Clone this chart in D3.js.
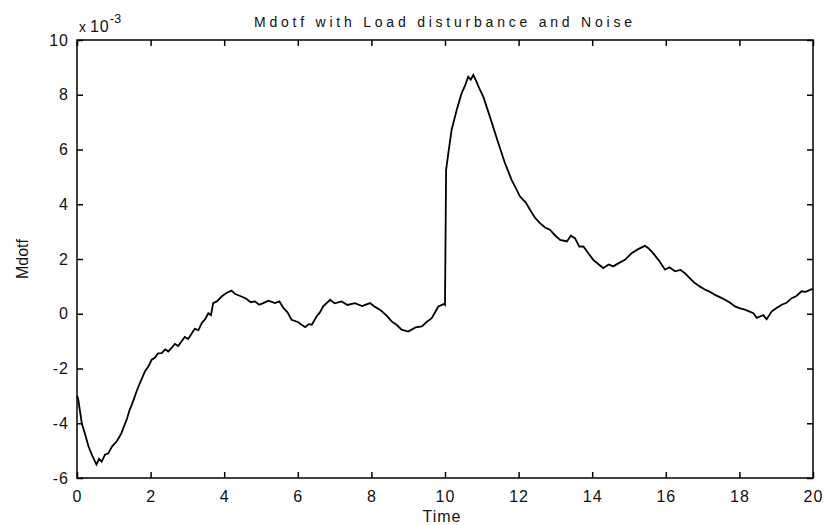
<!DOCTYPE html>
<html>
<head>
<meta charset="utf-8">
<script src="https://cdn.jsdelivr.net/npm/d3@7"></script>
<style>
  body { margin: 0; background: #fff; }
  text { font-family: "Liberation Sans", Arial, sans-serif; fill: #111; }
</style>
</head>
<body>
<div id="chart"></div>
<script>
// values (Mdotf in units of 1e-3)
var timeVals = [0, 0.03, 0.13, 0.22, 0.31, 0.42, 0.53, 0.6, 0.67, 0.76, 0.85, 0.95, 1.08, 1.15, 1.21, 1.28, 1.35, 1.42, 1.49, 1.55, 1.62, 1.72, 1.85, 1.95, 2.03, 2.12, 2.2, 2.3, 2.4, 2.48, 2.57, 2.66, 2.75, 2.84, 2.93, 3.02, 3.12, 3.2, 3.3, 3.39, 3.48, 3.57, 3.64, 3.7, 3.8, 3.93, 4.05, 4.2, 4.3, 4.47, 4.6, 4.72, 4.84, 4.95, 5.06, 5.2, 5.38, 5.5, 5.61, 5.72, 5.83, 6.0, 6.2, 6.3, 6.38, 6.51, 6.6, 6.69, 6.88, 7.0, 7.19, 7.35, 7.55, 7.75, 7.96, 8.1, 8.23, 8.4, 8.55, 8.7, 8.82, 9.0, 9.2, 9.37, 9.5, 9.64, 9.75, 9.82, 9.98, 10.0, 10.03, 10.09, 10.18, 10.32, 10.45, 10.55, 10.63, 10.7, 10.77, 10.85, 10.91, 11.04, 11.22, 11.45, 11.63, 11.81, 12.04, 12.2, 12.31, 12.45, 12.58, 12.72, 12.85, 13.0, 13.13, 13.31, 13.42, 13.53, 13.65, 13.76, 13.9, 14.03, 14.18, 14.3, 14.45, 14.57, 14.72, 14.89, 15.07, 15.25, 15.43, 15.52, 15.62, 15.8, 15.98, 16.1, 16.25, 16.4, 16.52, 16.65, 16.79, 16.92, 17.07, 17.2, 17.34, 17.48, 17.61, 17.75, 17.88, 18.02, 18.15, 18.28, 18.38, 18.47, 18.56, 18.65, 18.74, 18.88, 19.0, 19.15, 19.28, 19.42, 19.55, 19.69, 19.8, 19.96, 20.0];
var mdotfVals = [-3.0, -3.1, -4.0, -4.4, -4.84, -5.2, -5.51, -5.3, -5.4, -5.15, -5.1, -4.85, -4.66, -4.5, -4.35, -4.1, -3.87, -3.55, -3.32, -3.1, -2.83, -2.5, -2.1, -1.9, -1.68, -1.6, -1.45, -1.44, -1.3, -1.38, -1.25, -1.1, -1.18, -1.01, -0.85, -0.92, -0.71, -0.55, -0.6, -0.34, -0.2, 0.02, -0.05, 0.39, 0.45, 0.63, 0.75, 0.85, 0.72, 0.63, 0.55, 0.42, 0.45, 0.33, 0.39, 0.48, 0.39, 0.45, 0.21, 0.05, -0.22, -0.3, -0.49, -0.38, -0.4, -0.1, 0.05, 0.27, 0.51, 0.38, 0.45, 0.32, 0.39, 0.28, 0.39, 0.25, 0.15, -0.05, -0.28, -0.42, -0.58, -0.65, -0.5, -0.46, -0.3, -0.16, 0.1, 0.27, 0.36, 0.33, 5.26, 5.86, 6.72, 7.45, 8.05, 8.35, 8.66, 8.55, 8.72, 8.5, 8.3, 7.93, 7.2, 6.23, 5.5, 4.89, 4.28, 4.05, 3.8, 3.5, 3.31, 3.15, 3.07, 2.85, 2.7, 2.64, 2.85, 2.76, 2.45, 2.46, 2.2, 1.97, 1.8, 1.67, 1.8, 1.73, 1.85, 1.97, 2.21, 2.36, 2.48, 2.4, 2.27, 1.97, 1.61, 1.7, 1.55, 1.6, 1.48, 1.3, 1.12, 1.0, 0.88, 0.8, 0.69, 0.6, 0.51, 0.4, 0.27, 0.2, 0.15, 0.08, 0.02, -0.15, -0.1, -0.05, -0.2, 0.09, 0.2, 0.33, 0.4, 0.57, 0.65, 0.82, 0.8, 0.9, 0.88];
var xTicks = [0, 2, 4, 6, 8, 10, 12, 14, 16, 18, 20];
var yTicks = [-6, -4, -2, 0, 2, 4, 6, 8, 10];

var W = 826, H = 525;
var padL = 77, padR = 813, padT = 40, padB = 478;

var svg = d3.select("#chart").append("svg")
    .attr("width", W)
    .attr("height", H);

var x = d3.scaleLinear().domain([0, 20]).range([padL, padR]);
var y = d3.scaleLinear().domain([-6, 10]).range([padB, padT]);

var data = timeVals.map(function(t, i) { return {t: t, v: mdotfVals[i]}; });

// frame
svg.append("rect")
    .attr("x", padL).attr("y", padT)
    .attr("width", padR - padL).attr("height", padB - padT)
    .attr("fill", "none").attr("stroke", "#000").attr("stroke-width", 1.5);

// matlab style: plain hyphen, not unicode minus
var plain = function(d) { return String(d); };

var tickLen = 6;
var xAxisB = svg.append("g").attr("transform", "translate(0," + padB + ")")
    .call(d3.axisBottom(x).tickValues(xTicks).tickSizeInner(-tickLen).tickSizeOuter(0).tickPadding(10).tickFormat(plain));
var xAxisT = svg.append("g").attr("transform", "translate(0," + padT + ")")
    .call(d3.axisTop(x).tickValues(xTicks).tickSizeInner(-tickLen).tickSizeOuter(0).tickFormat(""));
var yAxisL = svg.append("g").attr("transform", "translate(" + padL + ",0)")
    .call(d3.axisLeft(y).tickValues(yTicks).tickSizeInner(-tickLen).tickSizeOuter(0).tickPadding(8).tickFormat(plain));
var yAxisR = svg.append("g").attr("transform", "translate(" + padR + ",0)")
    .call(d3.axisRight(y).tickValues(yTicks).tickSizeInner(-tickLen).tickSizeOuter(0).tickFormat(""));

[xAxisB, xAxisT, yAxisL, yAxisR].forEach(function(g) {
  g.select(".domain").remove();
  g.selectAll(".tick line").attr("stroke", "#000").attr("stroke-width", 1.5);
  g.selectAll(".tick text").attr("font-size", 16).style("letter-spacing", "1px").attr("fill", "#111");
});
xAxisB.selectAll(".tick text").attr("dy", "0.85em");

var line = d3.line()
    .x(function(d) { return x(d.t); })
    .y(function(d) { return y(d.v); });

svg.append("path")
    .datum(data)
    .attr("d", line)
    .attr("fill", "none")
    .attr("stroke", "#000")
    .attr("stroke-width", 1.8)
    .attr("stroke-linejoin", "miter");

// title and labels
svg.append("text")
    .attr("x", 254).attr("y", 27)
    .attr("font-size", 14)
    .attr("textLength", 378)
    .attr("lengthAdjust", "spacing")
    .text("Mdotf with Load disturbance and Noise");

var mult = svg.append("text").attr("x", 79).attr("y", 32).attr("font-size", 14);
mult.append("tspan").text("x ");
mult.append("tspan").attr("font-size", 16).style("letter-spacing", "1px").text("10");
mult.append("tspan").attr("dy", -9).attr("font-size", 13).text("-3");

svg.append("text")
    .attr("x", 442).attr("y", 522)
    .attr("text-anchor", "middle")
    .attr("font-size", 16)
    .style("letter-spacing", "1px")
    .text("Time");

svg.append("text")
    .attr("transform", "translate(28,259) rotate(-90)")
    .attr("text-anchor", "middle")
    .attr("font-size", 16)
    .text("Mdotf");
</script>
</body>
</html>
